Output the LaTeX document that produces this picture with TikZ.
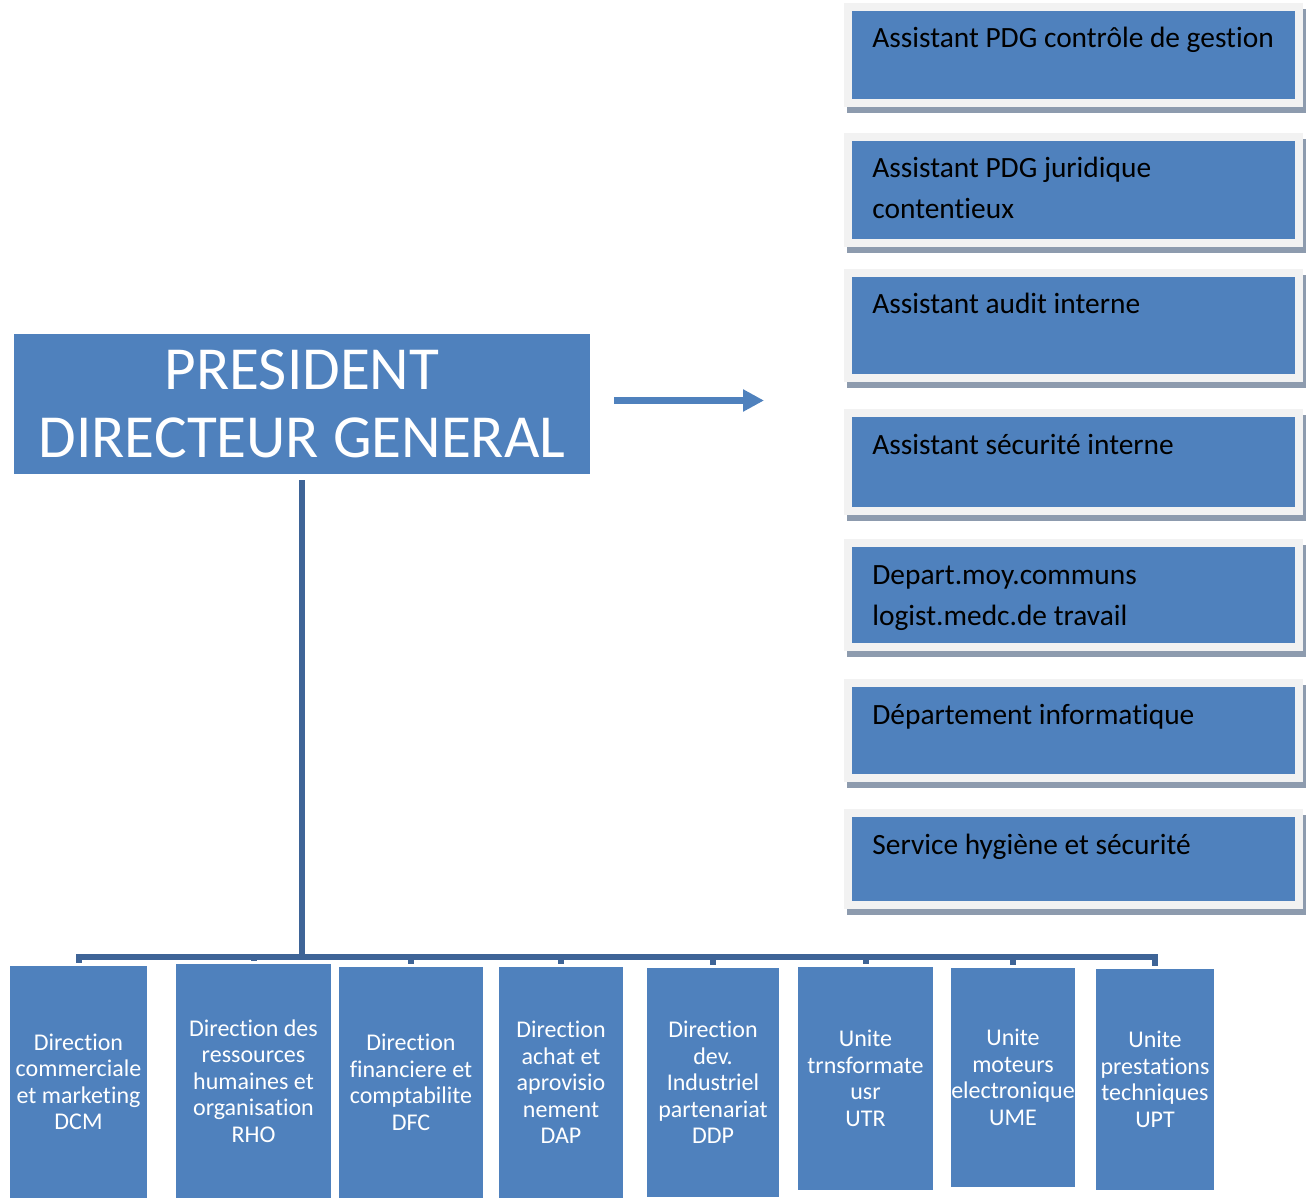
\documentclass[tikz,border=0pt]{standalone}
\usepackage{fontspec}
\setmainfont[Ligatures=NoCommon]{Carlito}
\usetikzlibrary{arrows.meta,shadows}
\definecolor{boxblue}{HTML}{4F81BD}
\definecolor{framegray}{HTML}{F2F2F2}
\definecolor{shadowgray}{HTML}{8D9BAE}
\definecolor{linkblue}{HTML}{3E6497}
\begin{document}
\begin{tikzpicture}[x=0.5pt,y=-0.5pt,
	pdgbox/.style={fill=boxblue, text=white, inner sep=0pt, outer sep=0pt, align=center, font=\fontsize{30.6}{34}\selectfont},
	assist/.style={fill=boxblue, draw=framegray, line width=4pt, inner sep=0pt, outer sep=0pt, minimum width=225.5pt, anchor=north west,
		drop shadow={shadow xshift=1.5pt, shadow yshift=-3pt, fill=shadowgray, draw=shadowgray, line width=4pt, opacity=1}},
	assisttext/.style={anchor=base west, text width=210pt, align=flush left, inner sep=0pt, font=\fontsize{14.7}{20.5}\selectfont},
	dirbox/.style={fill=boxblue, text=white, inner sep=0pt, outer sep=0pt, align=center, font=\fontsize{12}{13.25}\selectfont},
	link/.style={draw=linkblue, line width=3pt}]

\useasboundingbox (0,0) rectangle (1311,1198);

\node[pdgbox, minimum width=288pt, minimum height=70pt] (pdg) at (302,404) {PRESIDENT\\DIRECTEUR GENERAL};

\coordinate (arrowstart) at (614,400.5);
\coordinate (arrowend) at (764,400.5);
\draw[boxblue, line width=3.5pt, -{Triangle[length=10.5pt,width=10.5pt]}] (arrowstart) -- (arrowend);

\foreach \n/\ytop/\hgt/\txt in {
	1/7/96/{Assistant PDG contrôle de gestion},
	2/137/106/{Assistant PDG juridique\\contentieux},
	3/273/105/{Assistant audit interne},
	4/413/98/{Assistant sécurité interne},
	5/543/104/{Depart.moy.communs\\logist.medc.de travail},
	6/683/95/{Département informatique},
	7/813/92/{Service hygiène et sécurité}}{
	\node[assist, minimum height=\hgt*0.5pt] (a\n) at (848,\ytop) {};
	\node[assisttext] (a\n t) at ([shift={(12pt,-20.5pt)}]a\n.north west) {\txt};
}

\foreach \n/\cx/\cy/\w/\hgt/\txt in {
	1/78.5/1082/137/232/{Direction\\commerciale\\et marketing\\DCM},
	2/253.5/1081/155/234/{Direction des\\ressources\\humaines et\\organisation\\RHO},
	3/411/1082.5/144/231/{Direction\\financiere et\\comptabilite\\DFC},
	4/561/1082.5/124/231/{Direction\\achat et\\aprovisio\\nement\\DAP},
	5/713/1082.5/132/229/{Direction\\dev.\\Industriel\\partenariat\\DDP},
	6/865.5/1078.5/135/223/{Unite\\trnsformate\\usr\\UTR},
	7/1013/1077.5/124/219/{Unite\\moteurs\\electronique\\UME},
	8/1155/1079.5/118/221/{Unite\\prestations\\techniques\\UPT}}{
	\node[dirbox, minimum width=\w*0.5pt, minimum height=\hgt*0.5pt] (d\n) at (\cx,\cy) {\txt};
}

\coordinate (bus) at (302,957);
\draw[link] ([yshift=-3pt]pdg.south) -- (bus);
\foreach \n in {1,...,8}{
	\draw[link] (bus) -| ([yshift=1.5pt]d\n.north);
}
\end{tikzpicture}
\end{document}
